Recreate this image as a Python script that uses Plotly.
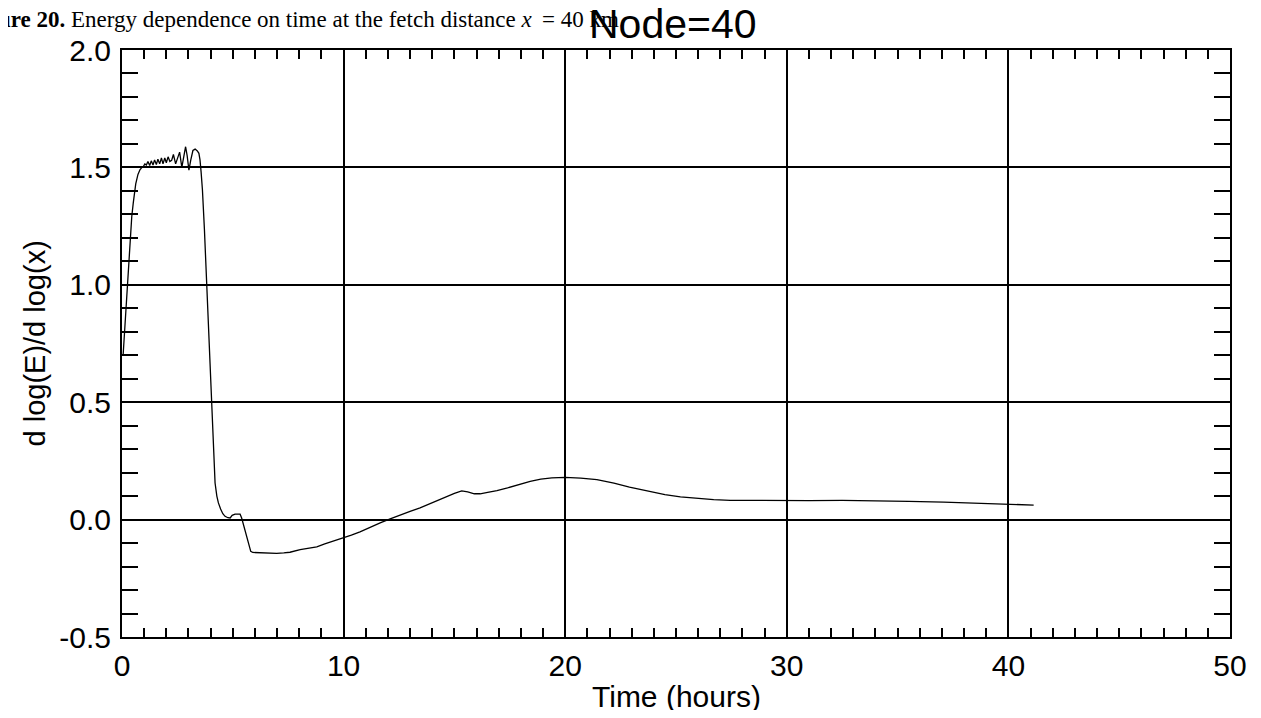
import plotly.graph_objects as go

time_hours = [0.05, 0.10, 0.14, 0.18, 0.24, 0.29, 0.36, 0.44, 0.51, 0.62, 0.72, 0.81,
              0.90, 0.97, 1.03, 1.10, 1.17, 1.25, 1.32, 1.40, 1.47, 1.55, 1.62, 1.70,
              1.78, 1.85, 1.93, 2.00, 2.08, 2.16, 2.24, 2.32, 2.42, 2.52, 2.60, 2.70,
              2.80, 2.87, 2.94, 3.02, 3.10, 3.20, 3.30, 3.40, 3.47, 3.52, 3.57, 3.63,
              3.72, 3.82, 3.90, 3.97, 4.04, 4.12, 4.20, 4.28, 4.35, 4.45, 4.55, 4.65,
              4.78, 4.88, 4.97, 5.10, 5.25, 5.33, 5.40, 5.48, 5.55, 5.63, 5.70, 5.75,
              5.81, 5.90, 6.23, 6.60, 6.98, 7.30, 7.58, 8.04, 8.40, 8.79, 9.15, 9.54,
              9.99, 10.35, 10.74, 11.2, 11.65, 12.1, 12.55, 13.0, 13.45, 13.9, 14.3,
              14.66, 15.0, 15.33, 15.6, 15.9, 16.16, 16.5, 16.92, 17.4, 17.9, 18.42,
              18.9, 19.4, 20.0, 20.7, 21.43, 22.2, 22.9, 23.69, 24.5, 25.2, 25.94,
              26.7, 27.45, 28.5, 29.71, 31.0, 32.5, 34.07, 35.5, 37.08, 38.6, 40.09,
              41.14]
dlogE_dlogx = [0.70, 0.78, 0.82, 0.92, 1.02, 1.09, 1.21, 1.29, 1.35, 1.43, 1.47, 1.49,
               1.50, 1.505, 1.515, 1.51, 1.525, 1.508, 1.528, 1.51, 1.532, 1.512, 1.535, 1.515,
               1.54, 1.515, 1.54, 1.52, 1.545, 1.525, 1.53, 1.555, 1.515, 1.545, 1.565, 1.50,
               1.56, 1.588, 1.55, 1.488, 1.53, 1.572, 1.578, 1.570, 1.560, 1.532, 1.48, 1.404,
               1.234, 1.007, 0.81, 0.64, 0.497, 0.32, 0.156, 0.10, 0.071, 0.045, 0.025, 0.014,
               0.008, 0.007, 0.018, 0.023, 0.022, 0.023, 0.007, -0.02, -0.043, -0.07, -0.092, -0.113,
               -0.135, -0.14, -0.142, -0.144, -0.144, -0.142, -0.139, -0.128, -0.122, -0.116, -0.103, -0.092,
               -0.078, -0.066, -0.052, -0.032, -0.014, 0.003, 0.02, 0.035, 0.050, 0.068, 0.082,
               0.099, 0.112, 0.122, 0.118, 0.110, 0.110, 0.116, 0.123, 0.135, 0.149, 0.163,
               0.172, 0.178, 0.180, 0.177, 0.170, 0.155, 0.138, 0.121, 0.106, 0.097, 0.090,
               0.085, 0.082, 0.081, 0.081, 0.081, 0.082, 0.081, 0.078, 0.074, 0.070, 0.067,
               0.062]

x_ticks = [0, 10, 20, 30, 40, 50]
y_ticks = [-0.5, 0.0, 0.5, 1.0, 1.5, 2.0]
y_tick_text = ["-0.5", "0.0", "0.5", "1.0", "1.5", "2.0"]

title_text = "Node=40"
x_title = "Time (hours)"
y_title = "d log(E)/d log(x)"
caption_text = "<b>ure 20.</b> Energy dependence on time at the fetch distance <i>x</i>\u00a0\u2009=\u00a040 km."

# page body has an 8px margin; figure sized to fit the 1261x718 window exactly
PAGE_OFF = 8
W, H = 1261 - 2 * PAGE_OFF, 718 - 2 * PAGE_OFF
PL, PT, PR, PB = 122, 50, 1230, 637          # plot area in page pixels
L, T = PL - PAGE_OFF, PT - PAGE_OFF
R = W + PAGE_OFF - PR
B = H + PAGE_OFF - PB
plot_w = PR - PL
plot_h = PB - PT


def px(page_x):
    return (page_x - PL) / plot_w


def py(page_y):
    return 1 - (page_y - PT) / plot_h


fig = go.Figure()
fig.add_trace(go.Scatter(x=time_hours, y=dlogE_dlogx, mode="lines",
                         line=dict(color="black", width=1.3), showlegend=False))

font_main = "Liberation Sans, Arial, Helvetica, sans-serif"

fig.update_layout(
    width=W, height=H,
    margin=dict(l=L, r=R, t=T, b=B, autoexpand=False),
    paper_bgcolor="white", plot_bgcolor="white",
    font=dict(family=font_main, color="black", size=30),
    showlegend=False,
)

fig.update_xaxes(
    range=[0, 50], tickvals=x_ticks, ticktext=[str(v) for v in x_ticks],
    showline=True, linecolor="black", linewidth=2, mirror="allticks",
    ticks="inside", ticklen=10, tickcolor="black", tickwidth=1.5,
    showgrid=True, gridcolor="black", gridwidth=1.5, zeroline=False,
    tickfont=dict(size=30, family=font_main), ticklabelstandoff=1, automargin=False,
    minor=dict(dtick=1, ticks="inside", ticklen=9, tickcolor="black", tickwidth=1.5, showgrid=False),
)
fig.update_yaxes(
    range=[-0.5, 2.0], tickvals=y_ticks, ticktext=y_tick_text,
    showline=True, linecolor="black", linewidth=2, mirror="allticks",
    ticks="inside", ticklen=16, tickcolor="black", tickwidth=1.5,
    showgrid=True, gridcolor="black", gridwidth=1.5, zeroline=False,
    tickfont=dict(size=30, family=font_main), ticklabelstandoff=3, automargin=False,
    minor=dict(dtick=0.1, ticks="inside", ticklen=16, tickcolor="black", tickwidth=1.5, showgrid=False),
)

# axis titles
fig.add_annotation(
    text=x_title, xref="paper", yref="paper", x=px((PL + PR) / 2), y=py(696),
    xanchor="center", yanchor="middle", showarrow=False,
    font=dict(family=font_main, size=30, color="black"),
)
fig.add_annotation(
    text=y_title, xref="paper", yref="paper", x=px(34), y=py((PT + PB) / 2),
    xanchor="center", yanchor="middle", textangle=-90, showarrow=False,
    font=dict(family=font_main, size=29, color="black"),
)

# caption (partly hidden behind the title, as in the reference)
fig.add_annotation(
    text=caption_text, xref="paper", yref="paper",
    x=px(-4), y=py(20), xanchor="left", yanchor="middle",
    showarrow=False, font=dict(family="Liberation Serif, Times New Roman, serif", size=23, color="black"),
)
fig.add_annotation(
    text=title_text, xref="paper", yref="paper",
    x=px(673), y=py(24), xanchor="center", yanchor="middle",
    showarrow=False, font=dict(family=font_main, size=41, color="black"),
)

fig.write_html("out.html")
